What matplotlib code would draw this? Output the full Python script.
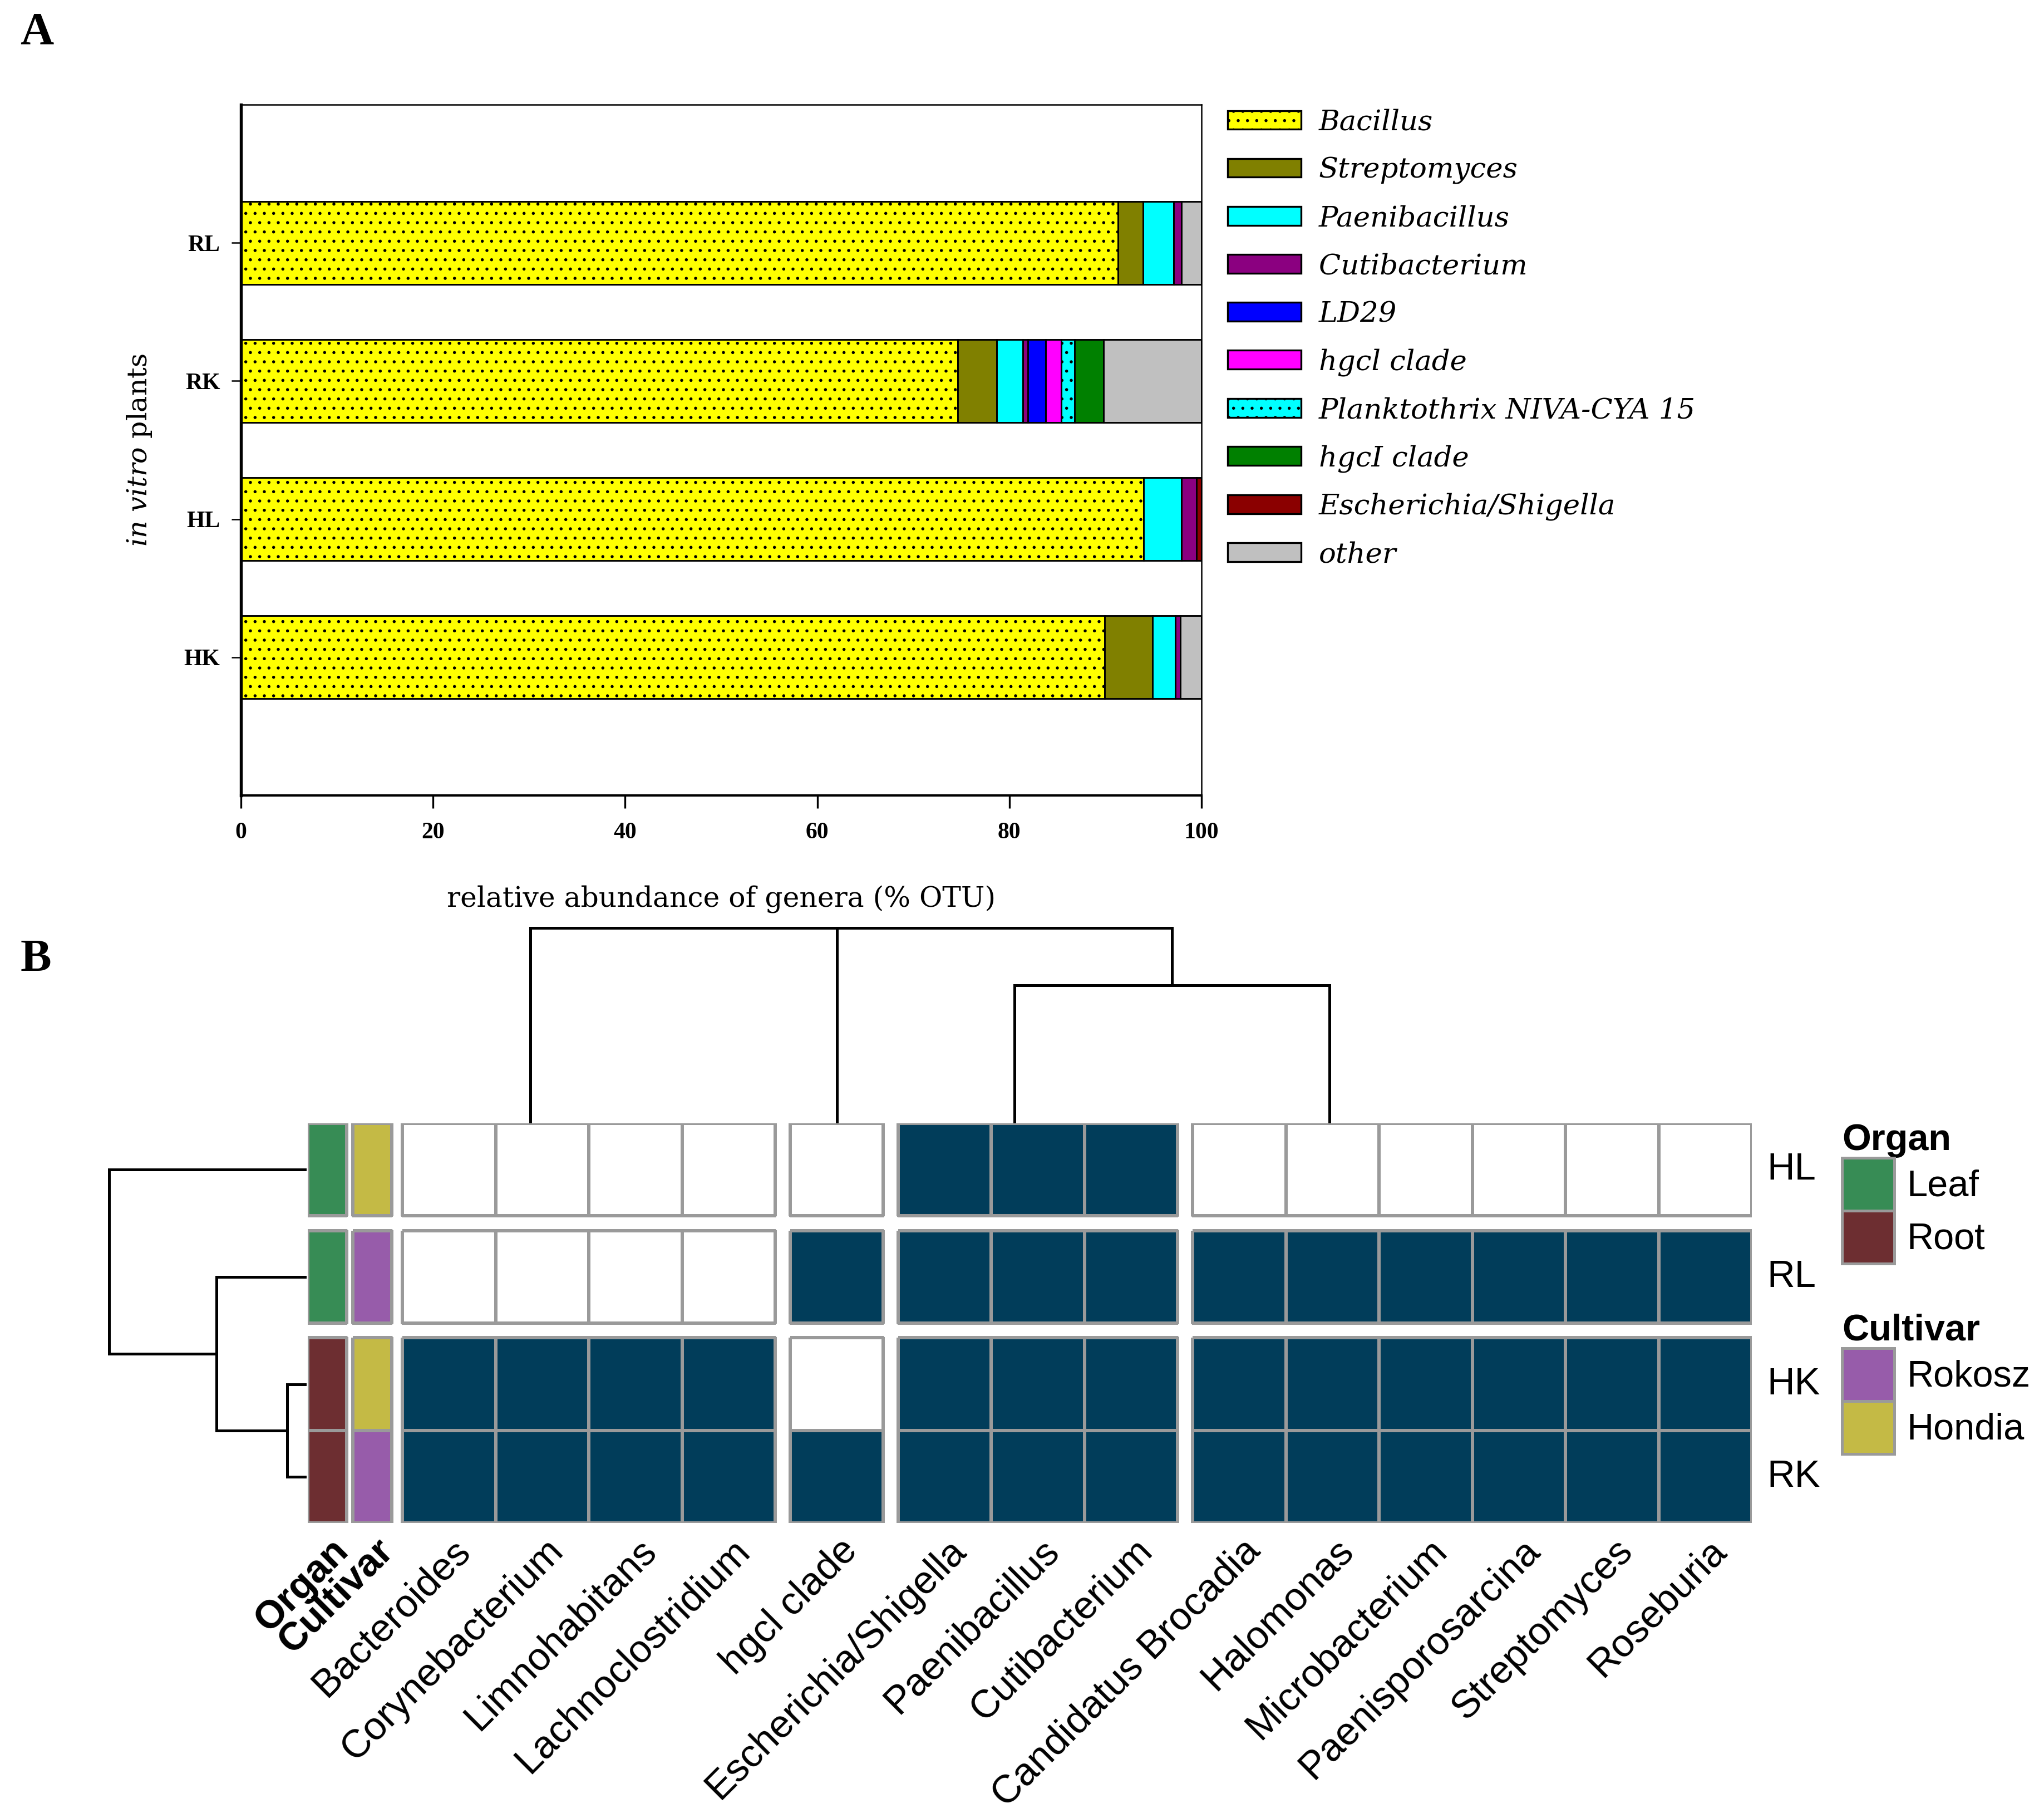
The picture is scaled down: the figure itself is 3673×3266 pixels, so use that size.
import numpy as np
import matplotlib
matplotlib.use("Agg")
import matplotlib.pyplot as plt
from matplotlib.patches import Patch
from matplotlib.colors import ListedColormap
from matplotlib.transforms import ScaledTranslation, blended_transform_factory

plt.rcParams['mathtext.fontset'] = 'custom'
plt.rcParams['mathtext.it'] = 'DejaVu Serif:italic'
plt.rcParams['mathtext.rm'] = 'DejaVu Serif'
plt.rcParams['hatch.linewidth'] = 0.5

# ---------------- Panel A data ----------------
samples = ["RL", "RK", "HL", "HK"]          # top to bottom
genera = ["Bacillus", "Streptomyces", "Paenibacillus", "Cutibacterium", "LD29",
          "hgcl clade", "Planktothrix NIVA-CYA 15", "hgcI clade",
          "Escherichia/Shigella", "other"]
bacillus      = [91.3, 74.6, 94.0, 89.9]
streptomyces  = [2.6, 4.1, 0.0, 5.0]
paenibacillus = [3.2, 2.7, 3.9, 2.4]
cutibacterium = [0.8, 0.5, 1.55, 0.5]
ld29          = [0.0, 1.9, 0.0, 0.0]
hgcl_clade    = [0.0, 1.6, 0.0, 0.0]
planktothrix  = [0.0, 1.4, 0.0, 0.0]
hgcI_clade    = [0.0, 3.0, 0.0, 0.0]
escherichia   = [0.0, 0.0, 0.55, 0.0]
other         = [2.1, 10.2, 0.0, 2.2]
series_A = [bacillus, streptomyces, paenibacillus, cutibacterium, ld29,
            hgcl_clade, planktothrix, hgcI_clade, escherichia, other]
colors_A = ["#FFFF00", "#808000", "#00FFFF", "#8B0080", "#0000FF",
            "#FF00FF", "#00FFFF", "#008000", "#8B0000", "#C0C0C0"]
hatches_A = ["...", None, None, None, None, None, "...", None, None, None]
xticks_A = [0, 20, 40, 60, 80, 100]

# ---------------- Panel B data ----------------
row_labels = ["HL", "RL", "HK", "RK"]
row_groups = [0, 1, 2, 2]
col_labels = ["Bacteroides", "Corynebacterium", "Limnohabitans", "Lachnoclostridium",
              "hgcl clade", "Escherichia/Shigella", "Paenibacillus", "Cutibacterium",
              "Candidatus Brocadia", "Halomonas", "Microbacterium", "Paenisporosarcina",
              "Streptomyces", "Roseburia"]
col_groups = [0, 0, 0, 0, 1, 2, 2, 2, 3, 3, 3, 3, 3, 3]
presence = np.array([
    [0, 0, 0, 0, 0, 1, 1, 1, 0, 0, 0, 0, 0, 0],   # HL
    [0, 0, 0, 0, 1, 1, 1, 1, 1, 1, 1, 1, 1, 1],   # RL
    [1, 1, 1, 1, 0, 1, 1, 1, 1, 1, 1, 1, 1, 1],   # HK
    [1, 1, 1, 1, 1, 1, 1, 1, 1, 1, 1, 1, 1, 1],   # RK
])
organ = ["Leaf", "Leaf", "Root", "Root"]
cultivar = ["Hondia", "Rokosz", "Hondia", "Rokosz"]
organ_colors = {"Leaf": "#378C55", "Root": "#6D2E31"}
cultivar_colors = {"Rokosz": "#975CAA", "Hondia": "#C4BA45"}
# dendrogram merges: (node_a, node_b, height)
row_merges = [(2, 3, 0.092), (1, 4, 0.453), (0, 5, 1.0)]
col_merges = [(2, 3, 0.0), (1, 14, 0.0), (0, 15, 0.0),
              (12, 13, 0.0), (11, 17, 0.0), (10, 18, 0.0), (9, 19, 0.0), (8, 20, 0.0),
              (6, 7, 0.0), (5, 22, 0.0),
              (23, 21, 0.704), (4, 24, 1.0), (16, 25, 1.0)]

W, H = 3673, 3266
fig = plt.figure(figsize=(W / 300, H / 300), dpi=300)

def fx(px):
    return px / W

def fy(py):
    return 1 - py / H

# ================= Panel A =================
serif = "DejaVu Serif"
times = "Liberation Serif"
axA = fig.add_axes([fx(433), fy(1429), fx(2159) - fx(433), fy(188) - fy(1429)])
ypos = np.arange(len(samples))[::-1]   # RL at top
left = np.zeros(len(samples))
handles = []
for name, vals, col, hat in zip(genera, series_A, colors_A, hatches_A):
    vals = np.array(vals)
    mask = vals > 0
    axA.barh(ypos[mask], vals[mask], left=left[mask], height=0.6, color=col,
             edgecolor="black", linewidth=0.7, hatch=hat)
    left = left + vals
    handles.append(Patch(facecolor=col, edgecolor="black", linewidth=0.8, hatch=hat, label=name))

axA.set_xlim(0, 100)
axA.set_ylim(-1, 4)
axA.set_yticks(ypos)
axA.set_yticklabels(samples, fontfamily=times, fontweight="bold", fontsize=10)
axA.set_xticks(xticks_A)
axA.set_xticklabels([str(t) for t in xticks_A], fontfamily=times, fontweight="bold", fontsize=10)
axA.tick_params(axis="y", length=4, width=0.6, pad=5)
axA.tick_params(axis="x", length=5.5, width=0.8, pad=6)
for s, lw in zip(["left", "bottom", "top", "right"], [1.3, 1.0, 0.6, 0.6]):
    axA.spines[s].set_linewidth(lw)
axA.set_xlabel("relative abundance of genera (% OTU)", fontfamily=serif, fontsize=12.1, va="center")
axA.xaxis.set_label_coords(0.5, -0.15)
axA.set_ylabel(r"$\mathit{in\ vitro}$ plants", fontfamily=serif, fontsize=11.8, va="center")
axA.yaxis.set_label_coords(-0.106, 0.5)

fig.legend(handles=handles, labels=genera, loc="upper left",
           bbox_to_anchor=(fx(2206), fy(195)), frameon=False, borderpad=0, borderaxespad=0,
           prop=dict(family=serif, style="italic", size=12.3),
           handlelength=2.58, handleheight=0.64, handletextpad=0.62, labelspacing=0.715)

fig.text(fx(66), fy(59), "A", fontfamily=times, fontweight="bold", fontsize=20, ha="center", va="center")
fig.text(fx(64), fy(1725), "B", fontfamily=times, fontweight="bold", fontsize=20, ha="center", va="center")

# ================= Panel B =================
sans = "Liberation Sans"
gap = 0.159
ann_w = 0.42
ann_gap = 0.063
ann_off = 0.113
col_x = np.arange(len(col_labels)) + gap * np.array(col_groups)   # left edges
row_y = np.arange(len(row_labels)) + gap * np.array(row_groups)   # top edges
x_right = col_x[-1] + 1
y_bottom = row_y[-1] + 1
cult_x = -ann_off - ann_w
org_x = cult_x - ann_gap - ann_w

hm_left_px, hm_right_px = 553, 3148
hm_top_px, hm_bot_px = 2018, 2736
axB = fig.add_axes([fx(hm_left_px), fy(hm_bot_px), fx(hm_right_px) - fx(hm_left_px),
                    fy(hm_top_px) - fy(hm_bot_px)])
axB.set_xlim(org_x, x_right)
axB.set_ylim(y_bottom, 0)
axB.axis("off")

dark = "#013D5A"
grid = "#9A9A9A"
cmap = ListedColormap(["white", dark])
rows_by_group = {}
for i, g in enumerate(row_groups):
    rows_by_group.setdefault(g, []).append(i)
cols_by_group = {}
for j, g in enumerate(col_groups):
    cols_by_group.setdefault(g, []).append(j)

for rg, ri in rows_by_group.items():
    yedges = np.append(row_y[ri], row_y[ri[-1]] + 1)
    for cg, cj in cols_by_group.items():
        xedges = np.append(col_x[cj], col_x[cj[-1]] + 1)
        block = presence[np.ix_(ri, cj)]
        axB.pcolormesh(xedges, yedges, block, cmap=cmap, vmin=0, vmax=1,
                       edgecolors=grid, linewidth=1.0)
    # annotation columns
    org_cols = [organ_colors[organ[i]] for i in ri]
    cul_cols = [cultivar_colors[cultivar[i]] for i in ri]
    for x0, cl in [(org_x, org_cols), (cult_x, cul_cols)]:
        axB.pcolormesh([x0, x0 + ann_w], yedges, np.arange(len(ri)).reshape(-1, 1),
                       cmap=ListedColormap(cl), vmin=-0.5, vmax=len(ri) - 0.5,
                       edgecolors=grid, linewidth=1.0)

# row labels
for i, lab in enumerate(row_labels):
    axB.text(x_right, row_y[i] + 0.5, lab, fontfamily=sans, fontsize=16.5, ha="left", va="center",
             transform=axB.transData + ScaledTranslation(6.5 / 72, 0, fig.dpi_scale_trans))

# column labels
btrans = blended_transform_factory(axB.transData, axB.transAxes)
off = ScaledTranslation(1 / 72, -4 / 72, fig.dpi_scale_trans)
centers = list(col_x + 0.5)
for c, lab in zip(centers, col_labels):
    axB.text(c, 0, lab, fontfamily=sans, fontsize=16.8, rotation=45, rotation_mode="anchor",
             ha="right", va="top", transform=btrans + off)
for c, lab in [(org_x + ann_w / 2, "Organ"), (cult_x + ann_w / 2, "Cultivar")]:
    axB.text(c, 0, lab, fontfamily=sans, fontsize=16.8, fontweight="bold", rotation=45,
             rotation_mode="anchor", ha="right", va="top", transform=btrans + off)

# dendrograms
def draw_dendro(ax, leaf_pos, merges, horizontal):
    pos = list(leaf_pos)
    hgt = [0.0] * len(leaf_pos)
    for a, b, h in merges:
        pa, pb, ha_, hb = pos[a], pos[b], hgt[a], hgt[b]
        segs = [([pa, pa], [ha_, h]), ([pa, pb], [h, h]), ([pb, pb], [h, hb])]
        for p, q in segs:
            if (p[0] == p[1] and q[0] == q[1]) or h == 0:
                continue
            if horizontal:
                ax.plot(q, p, color="black", linewidth=1.2, solid_capstyle="projecting", clip_on=False)
            else:
                ax.plot(p, q, color="black", linewidth=1.2, solid_capstyle="projecting", clip_on=False)
        pos.append((pa + pb) / 2)
        hgt.append(h)

axC = fig.add_axes([fx(hm_left_px), fy(2015), fx(hm_right_px) - fx(hm_left_px), fy(1667) - fy(2015)])
axC.set_xlim(org_x, x_right)
axC.set_ylim(0, 1)
axC.axis("off")
draw_dendro(axC, list(col_x + 0.5), col_merges, horizontal=False)

axR = fig.add_axes([fx(196), fy(hm_bot_px), fx(548) - fx(196), fy(hm_top_px) - fy(hm_bot_px)])
axR.set_xlim(1.0, 0)
axR.set_ylim(y_bottom, 0)
axR.axis("off")
draw_dendro(axR, list(row_y + 0.5), row_merges, horizontal=True)

# legends panel B
leg_kw = dict(frameon=False, borderpad=0, borderaxespad=0, handlelength=1.41, handleheight=1.81,
              handletextpad=0.33, labelspacing=0, alignment="left", loc="upper left",
              prop=dict(family=sans, size=16), title_fontproperties=dict(family=sans, weight="bold", size=16))
org_handles = [Patch(facecolor=organ_colors[k], edgecolor=grid, linewidth=1.2) for k in ["Leaf", "Root"]]
fig.legend(org_handles, ["Leaf", "Root"], title="Organ",
           bbox_to_anchor=(fx(3310), fy(2018)), **leg_kw)
cul_handles = [Patch(facecolor=cultivar_colors[k], edgecolor=grid, linewidth=1.2) for k in ["Rokosz", "Hondia"]]
fig.legend(cul_handles, ["Rokosz", "Hondia"], title="Cultivar",
           bbox_to_anchor=(fx(3310), fy(2360)), **leg_kw)

fig.savefig("out.png", dpi=300, facecolor="white")
